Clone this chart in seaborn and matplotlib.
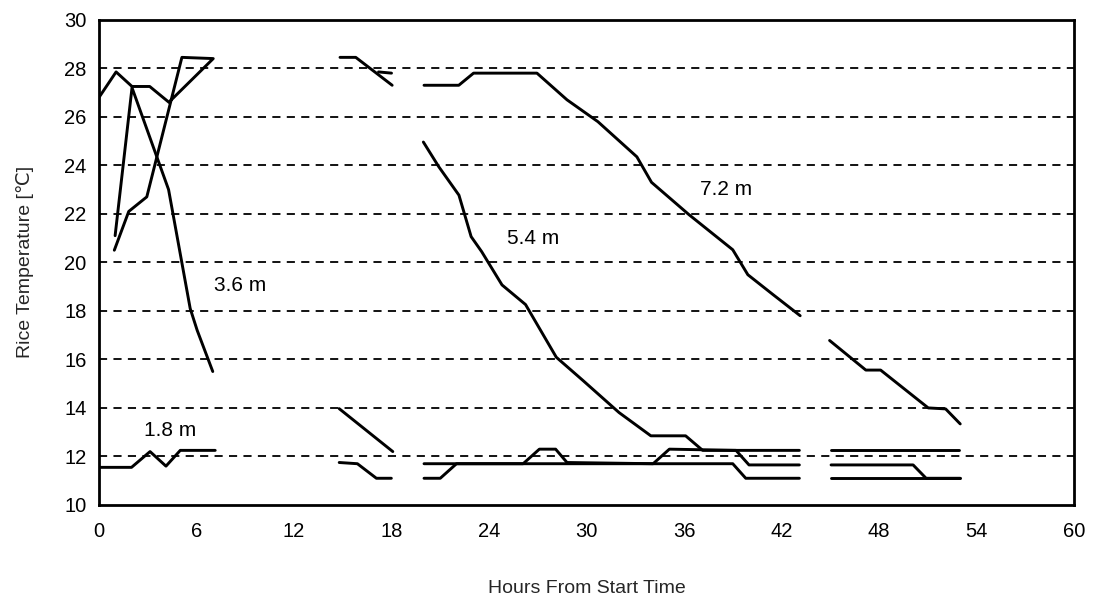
import matplotlib
matplotlib.use("Agg")
import matplotlib.pyplot as plt
import seaborn as sns
import pandas as pd

# ---------------- data ----------------
x_ticks = [0, 6, 12, 18, 24, 30, 36, 42, 48, 54, 60]
y_ticks = [10, 12, 14, 16, 18, 20, 22, 24, 26, 28, 30]

# early tangled line (top, 0-7 h)
early_hours = [0.0, 1.05, 2.03, 3.12, 4.3, 7.03, 5.1, 2.94, 1.83, 0.94]
early_temps = [26.8, 27.85, 27.25, 27.25, 26.6, 28.4, 28.45, 22.7, 22.1, 20.5]

# 3.6 m
d36_hours = [0.99, 2.03, 3.53, 4.28, 5.61, 6.04, 7.0]
d36_temps = [21.1, 27.2, 24.4, 23.0, 18.1, 17.2, 15.5]

# 1.8 m
d18_hours = [0.0, 2.0, 3.14, 4.12, 5.0, 7.15]
d18_temps = [11.55, 11.55, 12.2, 11.6, 12.25, 12.25]

# short segments 15-18 h
top15_hours = [14.83, 15.8, 18.04]
top15_temps = [28.45, 28.45, 27.3]
stub_hours = [17.2, 18.0]
stub_temps = [27.85, 27.8]
mid15_hours = [14.78, 18.08]
mid15_temps = [13.97, 12.2]
low15_hours = [14.78, 15.9, 17.07, 17.99]
low15_temps = [11.75, 11.7, 11.1, 11.1]

# 7.2 m
d72a_hours = [20.0, 22.14, 23.05, 26.95, 28.8, 30.7, 33.1, 33.4, 34.0, 36.3,
              39.0, 39.93, 41.5, 43.15]
d72a_temps = [27.3, 27.3, 27.8, 27.8, 26.7, 25.8, 24.35, 24.0, 23.3, 21.97,
              20.52, 19.49, 18.66, 17.8]
d72b_hours = [44.96, 47.19, 48.1, 51.03, 52.1, 53.0]
d72b_temps = [16.78, 15.56, 15.56, 14.0, 13.96, 13.34]

# 5.4 m
d54_hours = [19.96, 20.9, 22.15, 22.9, 23.55, 24.8, 26.25, 28.14, 29.8, 32.0,
             33.96, 36.1, 37.15, 43.1]
d54_temps = [24.96, 23.95, 22.77, 21.06, 20.44, 19.07, 18.26, 16.09, 15.12,
             13.81, 12.85, 12.85, 12.25, 12.25]

# bottom lines 20-43 h
bump_hours = [20.0, 26.1, 27.1, 28.1, 28.8, 34.1, 35.1, 39.2, 40.0, 43.1]
bump_temps = [11.7, 11.7, 12.3, 12.3, 11.75, 11.7, 12.3, 12.25, 11.65, 11.65]
flat_hours = [20.0, 21.0, 22.0, 39.0, 39.8, 43.1]
flat_temps = [11.1, 11.1, 11.7, 11.7, 11.1, 11.1]

# bottom lines 45-53 h
end_top_hours = [45.05, 52.95]
end_top_temps = [12.25, 12.25]
end_mid_hours = [45.05, 50.1, 50.9, 53.0]
end_mid_temps = [11.65, 11.65, 11.1, 11.1]
end_low_hours = [45.05, 53.0]
end_low_temps = [11.1, 11.1]

labels = ["1.8 m", "3.6 m", "5.4 m", "7.2 m"]
label_hours = [4.4, 8.7, 26.7, 38.6]
label_temps = [13.05, 19.05, 21.0, 23.0]

segments = [
    (early_hours, early_temps), (d36_hours, d36_temps), (d18_hours, d18_temps),
    (top15_hours, top15_temps), (stub_hours, stub_temps),
    (mid15_hours, mid15_temps), (low15_hours, low15_temps),
    (d72a_hours, d72a_temps), (d72b_hours, d72b_temps),
    (d54_hours, d54_temps), (bump_hours, bump_temps), (flat_hours, flat_temps),
    (end_top_hours, end_top_temps), (end_mid_hours, end_mid_temps),
    (end_low_hours, end_low_temps),
]

rows = []
for i, (hs, ts) in enumerate(segments):
    for h, t in zip(hs, ts):
        rows.append({"seg": i, "hour": h, "temp": t})
df = pd.DataFrame(rows)

# ---------------- drawing ----------------
sns.set_style("white")
plt.rcParams["font.family"] = ["Liberation Sans", "DejaVu Sans"]

fig = plt.figure(figsize=(10.93, 5.99), dpi=100)
ax = fig.add_axes([0.0906, 0.157, 0.892, 0.810])

for s in sorted(df["seg"].unique()):
    d = df[df["seg"] == s]
    sns.lineplot(data=d, x="hour", y="temp", sort=False, estimator=None,
                 color="black", linewidth=2.1, ax=ax, legend=False)

for txt, h, t in zip(labels, label_hours, label_temps):
    ax.text(h, t, txt, ha="center", va="center", fontsize=15, color="black")

ax.set_xlim(0, 60)
ax.set_ylim(10, 30)
ax.set_xticks(x_ticks)
ax.set_yticks(y_ticks)
ax.set_xticklabels([str(v) for v in x_ticks])
ax.set_yticklabels([str(v) for v in y_ticks])

for y in y_ticks[1:-1]:
    ax.axhline(y, color="black", linewidth=1.3, linestyle=(0, (4.5, 3.5)),
               zorder=0.5)

for sp in ax.spines.values():
    sp.set_visible(True)
    sp.set_linewidth(2.0)
    sp.set_color("black")

ax.tick_params(axis="both", direction="inout", length=8, width=1.6,
               colors="black", labelsize=14.5)
ax.tick_params(axis="x", pad=8)
ax.tick_params(axis="y", pad=5)

ax.set_xlabel("Hours From Start Time", fontsize=14, labelpad=28)
ax.set_ylabel("Rice Temperature [℃]", fontsize=14, labelpad=22)

fig.savefig("out.png", dpi=100, facecolor="white")
